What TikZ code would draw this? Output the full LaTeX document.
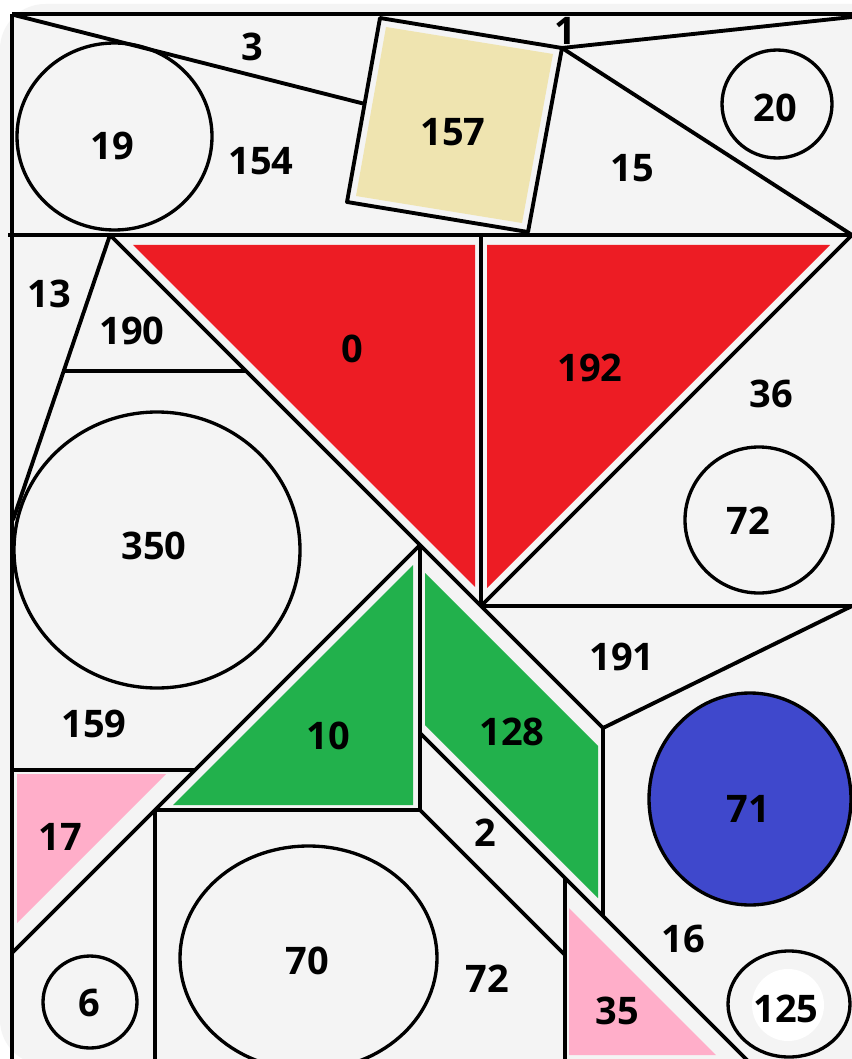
\documentclass[tikz,border=0pt]{standalone}
\usepackage{fontspec}
\setmainfont{Open Sans}
\definecolor{bg}{HTML}{F4F4F4}
\definecolor{pred}{HTML}{ED1C24}
\definecolor{pgreen}{HTML}{22B14C}
\definecolor{pblue}{HTML}{3F48CC}
\definecolor{pbeige}{HTML}{EFE4B0}
\definecolor{ppink}{HTML}{FFAEC9}
\begin{document}
\begin{tikzpicture}[x=0.75pt,y=-0.75pt,
  edge/.style={line width=2.9pt, line join=round},
  ring/.style={line width=2.5pt},
  lbl/.style={inner sep=0pt, font=\fontsize{28.5}{30}\selectfont\bfseries}]
\useasboundingbox (0,0) rectangle (852,1059);
\clip (0,0) rectangle (852,1059);
\fill[white] (0,0) rectangle (852,1059);
\fill[bg, rounded corners=34pt] (0,4) rectangle (900,1065);
% colour fills
\fill[pbeige] (386,27) -- (553,54) -- (522,223) -- (356,196) -- cycle;
\fill[pred] (133,245) -- (475,245) -- (475,587) -- cycle;
\fill[pred] (487,245) -- (830,245) -- (487,588) -- cycle;
\fill[pgreen] (413,565) -- (173,805) -- (413,805) -- cycle;
\fill[pgreen] (425,573) -- (598,746) -- (598,898) -- (425,725) -- cycle;
\fill[ppink] (17,774) -- (166,774) -- (17,923) -- cycle;
\fill[ppink] (569,908) -- (569,1055) -- (716,1055) -- cycle;
\fill[white] (788,1005) circle [radius=36];
% key points
\coordinate (tl) at (12,14);
\coordinate (tr) at (852,14);
\coordinate (bl) at (12,1059);
\coordinate (sqa) at (380,18);
\coordinate (sqb) at (562,48);
\coordinate (sqc) at (528,232);
\coordinate (sqd) at (347,202);
\coordinate (apex) at (110,235);
\coordinate (mid) at (481,606);
\coordinate (pr) at (603,728);
\coordinate (pb) at (603,916);
\coordinate (gt) at (420,545);
\coordinate (gl) at (420,733);
\coordinate (gb) at (420,810);
% frame and lines
\draw[edge] (tl) -- (tr);
\draw[edge] (tl) -- (bl);
\draw[edge] (14,15) -- (365,104);
\draw[edge] (sqa) -- (sqb) -- (sqc) -- (sqd) -- cycle;
\draw[edge] (sqb) -- (852,17);
\draw[edge] (sqb) -- (852,235);
\draw[edge] (8,235) -- (852,235);
\draw[edge] (apex) -- (13,520);
\draw[edge] (62,371) -- (246,371);
\draw[edge] (apex) -- (pr);
\draw[edge] (481,235) -- (mid);
\draw[edge] (852,235) -- (mid);
\draw[edge] (mid) -- (852,606);
\draw[edge] (pr) -- (852,606);
\draw[edge] (pr) -- (pb);
\draw[edge] (gt) -- (gb);
\draw[edge] (gt) -- (12,953);
\draw[edge] (12,770) -- (195,770);
\draw[edge] (155,810) -- (gb);
\draw[edge] (155,810) -- (155,1062);
\draw[edge] (gl) -- (749,1062);
\draw[edge] (gb) -- (565,955);
\draw[edge] (565,878) -- (565,1062);
% circles
\draw[ring] (114.5,136.5) ellipse [x radius=97.5, y radius=93.5];
\draw[ring] (777,104) ellipse [x radius=55, y radius=54];
\draw[ring] (157,550) ellipse [x radius=143, y radius=138];
\draw[ring] (759,520) ellipse [x radius=74, y radius=73];
\draw[ring, fill=pblue] (750,799) ellipse [x radius=101, y radius=106];
\draw[ring] (90,1002) ellipse [x radius=47, y radius=46];
\draw[ring] (308.5,958) ellipse [x radius=128.5, y radius=112];
\draw[ring] (789,1004) ellipse [x radius=61, y radius=53];
% labels
\node[lbl] (l3) at (252,47) {3};
\node[lbl] (l19) at (112,146) {19};
\node[lbl] (l154) at (261,161) {154};
\node[lbl] (l157) at (453,132) {157};
\node[lbl] (l1) at (565,31) {1};
\node[lbl] (l15) at (632,168) {15};
\node[lbl] (l20) at (775,108) {20};
\node[lbl] (l13) at (49,294) {13};
\node[lbl] (l190) at (132,331) {190};
\node[lbl] (l0) at (352,349) {0};
\node[lbl] (l350) at (154,546) {350};
\node[lbl] (l192) at (590,368) {192};
\node[lbl] (l36) at (771,394) {36};
\node[lbl] (l72a) at (748,521) {72};
\node[lbl] (l159) at (94,724) {159};
\node[lbl] (l10) at (328,736) {10};
\node[lbl] (l191) at (622,657) {191};
\node[lbl] (l128) at (512,732) {128};
\node[lbl] (l71) at (748,809) {71};
\node[lbl] (l2) at (485,833) {2};
\node[lbl] (l17) at (60,837) {17};
\node[lbl] (l6) at (89,1003) {6};
\node[lbl] (l70) at (307,961) {70};
\node[lbl] (l72b) at (487,979) {72};
\node[lbl] (l16) at (683,939) {16};
\node[lbl] (l35) at (617,1011) {35};
\node[lbl] (l125) at (786,1009) {125};
\end{tikzpicture}
\end{document}
